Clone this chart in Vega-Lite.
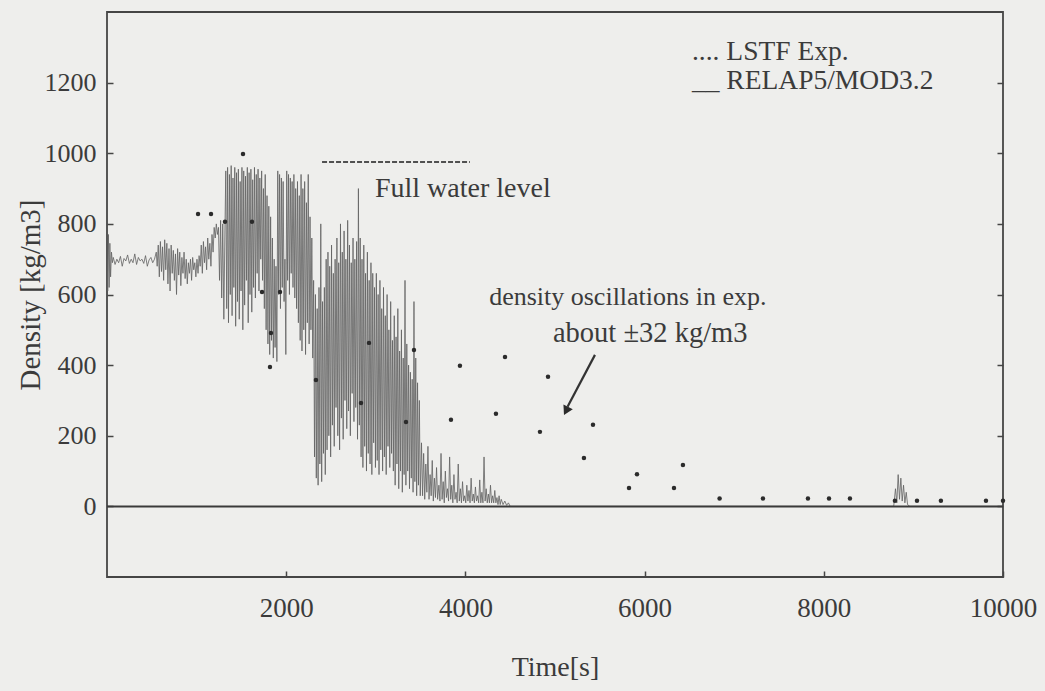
{
  "$schema": "https://vega.github.io/schema/vega-lite/v6.json",
  "width": 896,
  "height": 565,
  "autosize": {"type": "none"},
  "padding": {"left": 107, "top": 12, "right": 42, "bottom": 114},
  "background": "#eeeeec",
  "config": {
    "view": {"stroke": "#454545", "strokeWidth": 1.8},
    "font": "Liberation Serif",
    "text": {"font": "Liberation Serif", "color": "#3b3b3b"}
  },
  "datasets": {
    "relap": [
      {"t":0,"rho":700},{"t":8,"rho":610},{"t":16,"rho":770},{"t":24,"rho":620},{"t":32,"rho":745},{"t":40,"rho":650},{"t":50,"rho":720},{"t":60,"rho":690},
      {"t":70,"rho":705},{"t":90,"rho":685},{"t":110,"rho":700},{"t":130,"rho":690},{"t":150,"rho":708},{"t":170,"rho":680},{"t":190,"rho":702},{"t":210,"rho":695},{"t":230,"rho":712},{"t":250,"rho":688},{"t":270,"rho":700},{"t":290,"rho":690},{"t":310,"rho":715},{"t":330,"rho":685},{"t":350,"rho":705},{"t":370,"rho":695},{"t":390,"rho":700},{"t":410,"rho":688},{"t":430,"rho":710},{"t":450,"rho":680},{"t":470,"rho":698},{"t":490,"rho":705},{"t":510,"rho":690},{"t":530,"rho":700},{"t":550,"rho":720},
      {"t":560,"rho":680},{"t":572,"rho":740},{"t":584,"rho":650},{"t":596,"rho":750},{"t":608,"rho":665},{"t":620,"rho":735},{"t":632,"rho":640},{"t":644,"rho":755},{"t":656,"rho":670},{"t":668,"rho":745},{"t":680,"rho":630},{"t":692,"rho":730},{"t":704,"rho":610},{"t":716,"rho":740},{"t":728,"rho":660},{"t":740,"rho":725},{"t":752,"rho":640},{"t":764,"rho":715},{"t":776,"rho":600},{"t":788,"rho":730},{"t":800,"rho":655},{"t":812,"rho":720},{"t":824,"rho":625},{"t":836,"rho":705},{"t":848,"rho":660},{"t":860,"rho":720},{"t":872,"rho":645},{"t":884,"rho":700},{"t":896,"rho":630},{"t":908,"rho":690},{"t":920,"rho":660},{"t":932,"rho":700},{"t":944,"rho":640},{"t":956,"rho":705},{"t":968,"rho":670},{"t":980,"rho":690},{"t":992,"rho":650},{"t":1004,"rho":700},{"t":1016,"rho":660},{"t":1028,"rho":710},
      {"t":1040,"rho":680},{"t":1052,"rho":740},{"t":1064,"rho":660},{"t":1076,"rho":750},{"t":1088,"rho":690},{"t":1100,"rho":735},{"t":1112,"rho":670},{"t":1124,"rho":760},{"t":1136,"rho":700},{"t":1148,"rho":745},{"t":1160,"rho":680},{"t":1172,"rho":770},{"t":1184,"rho":720},{"t":1196,"rho":790},{"t":1208,"rho":760},{"t":1220,"rho":800},{"t":1232,"rho":770},{"t":1244,"rho":790},{"t":1256,"rho":640},{"t":1268,"rho":810},{"t":1280,"rho":590},{"t":1292,"rho":800},{"t":1304,"rho":530},{"t":1316,"rho":780},
      {"t":1326,"rho":950},{"t":1336,"rho":560},{"t":1346,"rho":960},{"t":1356,"rho":520},{"t":1366,"rho":940},{"t":1376,"rho":600},{"t":1386,"rho":965},{"t":1396,"rho":540},{"t":1406,"rho":930},{"t":1416,"rho":620},{"t":1426,"rho":960},{"t":1436,"rho":510},{"t":1446,"rho":945},{"t":1456,"rho":580},{"t":1466,"rho":955},{"t":1476,"rho":530},{"t":1486,"rho":920},{"t":1496,"rho":610},{"t":1506,"rho":960},{"t":1516,"rho":500},{"t":1526,"rho":950},{"t":1536,"rho":570},{"t":1546,"rho":935},{"t":1556,"rho":640},{"t":1566,"rho":960},{"t":1576,"rho":520},{"t":1586,"rho":945},{"t":1596,"rho":600},{"t":1606,"rho":955},{"t":1616,"rho":550},{"t":1626,"rho":925},{"t":1636,"rho":620},{"t":1646,"rho":960},{"t":1656,"rho":590},{"t":1666,"rho":940},{"t":1676,"rho":660},{"t":1686,"rho":955},{"t":1696,"rho":610},{"t":1706,"rho":930},{"t":1716,"rho":700},{"t":1726,"rho":950},{"t":1736,"rho":640},{"t":1746,"rho":900},{"t":1756,"rho":560},{"t":1766,"rho":940},{"t":1776,"rho":500},{"t":1786,"rho":880},{"t":1796,"rho":460},{"t":1806,"rho":850},{"t":1816,"rho":430},{"t":1826,"rho":820},{"t":1836,"rho":470},{"t":1846,"rho":760},{"t":1856,"rho":420},{"t":1866,"rho":700},{"t":1876,"rho":450},{"t":1886,"rho":680},{"t":1896,"rho":410},
      {"t":1906,"rho":950},{"t":1916,"rho":600},{"t":1926,"rho":940},{"t":1936,"rho":560},{"t":1946,"rho":930},{"t":1956,"rho":620},{"t":1966,"rho":920},{"t":1976,"rho":580},{"t":1986,"rho":700},{"t":1996,"rho":430},{"t":2006,"rho":950},{"t":2016,"rho":640},{"t":2026,"rho":940},{"t":2036,"rho":600},{"t":2046,"rho":930},{"t":2056,"rho":660},{"t":2066,"rho":920},{"t":2076,"rho":620},{"t":2086,"rho":940},{"t":2096,"rho":590},{"t":2106,"rho":900},{"t":2116,"rho":560},{"t":2126,"rho":920},{"t":2136,"rho":520},{"t":2146,"rho":880},{"t":2156,"rho":470},{"t":2166,"rho":940},{"t":2176,"rho":440},{"t":2186,"rho":900},{"t":2196,"rho":500},{"t":2206,"rho":920},{"t":2216,"rho":430},{"t":2226,"rho":860},{"t":2236,"rho":520},{"t":2246,"rho":940},{"t":2256,"rho":460},{"t":2266,"rho":820},{"t":2276,"rho":500},{"t":2286,"rho":760},{"t":2296,"rho":420},
      {"t":2306,"rho":640},{"t":2316,"rho":140},{"t":2326,"rho":600},{"t":2336,"rho":80},{"t":2346,"rho":560},{"t":2356,"rho":60},{"t":2366,"rho":620},{"t":2376,"rho":120},{"t":2386,"rho":800},{"t":2396,"rho":70},{"t":2406,"rho":580},{"t":2416,"rho":150},{"t":2426,"rho":620},{"t":2436,"rho":90},{"t":2446,"rho":700},
      {"t":2456,"rho":160},{"t":2466,"rho":720},{"t":2476,"rho":200},{"t":2486,"rho":680},{"t":2496,"rho":140},{"t":2506,"rho":740},{"t":2516,"rho":230},{"t":2526,"rho":660},{"t":2536,"rho":170},{"t":2546,"rho":700},{"t":2556,"rho":280},{"t":2566,"rho":760},{"t":2576,"rho":200},{"t":2586,"rho":690},{"t":2596,"rho":160},{"t":2606,"rho":800},{"t":2616,"rho":250},{"t":2626,"rho":720},{"t":2636,"rho":190},{"t":2646,"rho":780},{"t":2656,"rho":300},{"t":2666,"rho":700},{"t":2676,"rho":220},{"t":2686,"rho":810},{"t":2696,"rho":270},{"t":2706,"rho":740},{"t":2716,"rho":200},{"t":2726,"rho":690},{"t":2736,"rho":320},{"t":2746,"rho":760},{"t":2756,"rho":240},{"t":2766,"rho":700},{"t":2776,"rho":280},{"t":2786,"rho":750},{"t":2796,"rho":190},
      {"t":2806,"rho":900},{"t":2816,"rho":230},{"t":2826,"rho":760},{"t":2836,"rho":140},{"t":2846,"rho":700},{"t":2856,"rho":110},{"t":2866,"rho":740},{"t":2876,"rho":170},{"t":2886,"rho":660},{"t":2896,"rho":100},{"t":2906,"rho":720},{"t":2916,"rho":150},{"t":2926,"rho":640},{"t":2936,"rho":120},{"t":2946,"rho":690},{"t":2956,"rho":90},{"t":2966,"rho":660},{"t":2976,"rho":180},{"t":2986,"rho":620},{"t":2996,"rho":110},
      {"t":3006,"rho":660},{"t":3016,"rho":130},{"t":3026,"rho":600},{"t":3036,"rho":90},{"t":3046,"rho":640},{"t":3056,"rho":160},{"t":3066,"rho":560},{"t":3076,"rho":100},{"t":3086,"rho":620},{"t":3096,"rho":140},{"t":3106,"rho":540},{"t":3116,"rho":90},{"t":3126,"rho":600},{"t":3136,"rho":170},{"t":3146,"rho":500},{"t":3156,"rho":110},{"t":3166,"rho":580},{"t":3176,"rho":150},{"t":3186,"rho":470},{"t":3196,"rho":100},
      {"t":3206,"rho":540},{"t":3216,"rho":60},{"t":3226,"rho":480},{"t":3236,"rho":120},{"t":3246,"rho":560},{"t":3256,"rho":50},{"t":3266,"rho":440},{"t":3276,"rho":100},{"t":3286,"rho":500},{"t":3296,"rho":40},{"t":3306,"rho":420},{"t":3316,"rho":90},{"t":3326,"rho":640},{"t":3336,"rho":60},{"t":3346,"rho":460},{"t":3356,"rho":100},{"t":3366,"rho":400},{"t":3376,"rho":50},{"t":3386,"rho":380},{"t":3396,"rho":80},{"t":3406,"rho":360},{"t":3416,"rho":40},{"t":3426,"rho":580},{"t":3436,"rho":70},{"t":3446,"rho":420},{"t":3456,"rho":30},{"t":3466,"rho":350},{"t":3476,"rho":60},{"t":3486,"rho":300},{"t":3496,"rho":30},
      {"t":3510,"rho":180},{"t":3522,"rho":30},{"t":3534,"rho":150},{"t":3546,"rho":20},{"t":3558,"rho":120},{"t":3570,"rho":40},{"t":3582,"rho":170},{"t":3594,"rho":20},{"t":3606,"rho":90},{"t":3618,"rho":30},{"t":3630,"rho":130},{"t":3642,"rho":15},{"t":3654,"rho":80},{"t":3666,"rho":25},{"t":3678,"rho":110},{"t":3690,"rho":20},
      {"t":3704,"rho":60},{"t":3716,"rho":15},{"t":3728,"rho":150},{"t":3740,"rho":20},{"t":3752,"rho":70},{"t":3764,"rho":10},{"t":3776,"rho":100},{"t":3788,"rho":25},{"t":3800,"rho":50},{"t":3812,"rho":15},{"t":3824,"rho":140},{"t":3836,"rho":20},{"t":3848,"rho":60},{"t":3860,"rho":10},{"t":3872,"rho":90},{"t":3884,"rho":20},{"t":3896,"rho":40},{"t":3908,"rho":10},{"t":3920,"rho":120},{"t":3932,"rho":15},{"t":3944,"rho":50},{"t":3956,"rho":10},{"t":3968,"rho":70},{"t":3980,"rho":15},{"t":3992,"rho":30},
      {"t":4004,"rho":10},{"t":4016,"rho":60},{"t":4028,"rho":15},{"t":4040,"rho":45},{"t":4052,"rho":10},{"t":4064,"rho":80},{"t":4076,"rho":15},{"t":4088,"rho":35},{"t":4100,"rho":10},{"t":4112,"rho":55},{"t":4124,"rho":15},{"t":4136,"rho":30},{"t":4148,"rho":10},{"t":4160,"rho":75},{"t":4172,"rho":10},{"t":4184,"rho":40},{"t":4196,"rho":10},{"t":4208,"rho":140},{"t":4220,"rho":15},{"t":4232,"rho":50},{"t":4244,"rho":10},{"t":4256,"rho":35},{"t":4268,"rho":10},{"t":4280,"rho":60},{"t":4292,"rho":10},{"t":4304,"rho":30},{"t":4316,"rho":10},{"t":4328,"rho":45},{"t":4340,"rho":10},{"t":4352,"rho":25},{"t":4364,"rho":5},{"t":4376,"rho":30},{"t":4388,"rho":5},{"t":4400,"rho":20},{"t":4420,"rho":5},{"t":4440,"rho":15},{"t":4460,"rho":3},{"t":4480,"rho":10},{"t":4500,"rho":0},
      {"t":5000,"rho":0},{"t":6000,"rho":0},{"t":7000,"rho":0},{"t":8000,"rho":0},{"t":8780,"rho":0},{"t":8800,"rho":50},{"t":8815,"rho":10},{"t":8830,"rho":90},{"t":8845,"rho":20},{"t":8860,"rho":80},{"t":8875,"rho":15},{"t":8890,"rho":60},{"t":8905,"rho":10},{"t":8920,"rho":40},{"t":8935,"rho":5},{"t":8960,"rho":0},{"t":9500,"rho":0},{"t":10000,"rho":0}
    ],
    "lstf": [
      {"t":1016,"rho":828},{"t":1161,"rho":828},{"t":1317,"rho":806},{"t":1518,"rho":998},{"t":1618,"rho":806},
      {"t":1730,"rho":607},{"t":1819,"rho":395},{"t":1830,"rho":491},{"t":1931,"rho":607},{"t":2332,"rho":358},
      {"t":2835,"rho":293},{"t":2924,"rho":463},{"t":3337,"rho":239},{"t":3426,"rho":443},{"t":3839,"rho":245},
      {"t":3939,"rho":398},{"t":4341,"rho":262},{"t":4442,"rho":423},{"t":4832,"rho":211},{"t":4922,"rho":367},
      {"t":5323,"rho":137},{"t":5424,"rho":231},{"t":5826,"rho":52},{"t":5915,"rho":91},{"t":6328,"rho":52},
      {"t":6428,"rho":117},{"t":6837,"rho":22},{"t":7321,"rho":22},{"t":7823,"rho":22},{"t":8058,"rho":22},
      {"t":8292,"rho":22},{"t":8794,"rho":16},{"t":9040,"rho":16},{"t":9307,"rho":16},{"t":9810,"rho":16},{"t":10000,"rho":16}
    ],
    "one": [{}]
  },
  "layer": [
    {
      "data": {"name": "relap"},
      "mark": {"type": "line", "stroke": "#616161", "strokeWidth": 0.8, "clip": true},
      "encoding": {
        "x": {
          "field": "t", "type": "quantitative",
          "scale": {"domain": [0, 10000], "nice": false, "zero": false},
          "axis": {
            "values": [2000, 4000, 6000, 8000, 10000], "format": "d", "labelFlush": false,
            "title": "Time[s]", "domain": false, "grid": false,
            "tickSize": -6, "tickColor": "#454545", "tickWidth": 1.5,
            "labelFont": "Liberation Serif", "labelFontSize": 27, "labelColor": "#3b3b3b", "labelPadding": 24,
            "titleFont": "Liberation Serif", "titleFontSize": 28, "titleFontWeight": "normal", "titleColor": "#3b3b3b", "titlePadding": 32
          }
        },
        "y": {
          "field": "rho", "type": "quantitative",
          "scale": {"domain": [-200, 1400], "nice": false, "zero": false},
          "axis": {
            "values": [0, 200, 400, 600, 800, 1000, 1200], "format": "d", "labelFlush": false,
            "title": "Density [kg/m3]", "domain": false, "grid": false,
            "tickSize": -6, "tickColor": "#454545", "tickWidth": 1.5,
            "labelFont": "Liberation Serif", "labelFontSize": 26, "labelColor": "#3b3b3b", "labelPadding": 17,
            "titleFont": "Liberation Serif", "titleFontSize": 29, "titleFontWeight": "normal", "titleColor": "#3b3b3b", "titlePadding": -1
          }
        }
      }
    },
    {
      "data": {"name": "one"},
      "mark": {"type": "rule", "stroke": "#3a3a3a", "strokeWidth": 2},
      "encoding": {
        "y": {
          "datum": 0, "type": "quantitative",
          "axis": {
            "orient": "right", "labels": false, "title": null, "domain": false, "grid": false,
            "values": [0, 200, 400, 600, 800, 1000, 1200],
            "tickSize": -6, "tickColor": "#454545", "tickWidth": 1.5
          }
        }
      }
    },
    {
      "data": {"name": "lstf"},
      "mark": {"type": "circle", "size": 20, "color": "#2b2b2b", "opacity": 1},
      "encoding": {
        "x": {"field": "t", "type": "quantitative", "axis": null},
        "y": {"field": "rho", "type": "quantitative", "axis": null}
      }
    },
    {
      "data": {"name": "one"},
      "mark": {"type": "rule", "stroke": "#505050", "strokeWidth": 2, "strokeDash": [5, 2]},
      "encoding": {
        "x": {"datum": 2400, "type": "quantitative", "axis": null},
        "x2": {"datum": 4050},
        "y": {"datum": 975, "type": "quantitative", "axis": null}
      }
    },
    {
      "data": {"name": "one"},
      "mark": {"type": "text", "fontSize": 28, "align": "left", "baseline": "alphabetic"},
      "encoding": {
        "x": {"datum": 2991, "type": "quantitative", "axis": null},
        "y": {"datum": 876, "type": "quantitative", "axis": null},
        "text": {"value": "Full water level"}
      }
    },
    {
      "data": {"name": "one"},
      "mark": {"type": "text", "fontSize": 26, "align": "left", "baseline": "alphabetic"},
      "encoding": {
        "x": {"datum": 4265, "type": "quantitative", "axis": null},
        "y": {"datum": 570, "type": "quantitative", "axis": null},
        "text": {"value": "density oscillations in exp."}
      }
    },
    {
      "data": {"name": "one"},
      "mark": {"type": "text", "fontSize": 28.5, "align": "left", "baseline": "alphabetic"},
      "encoding": {
        "x": {"datum": 4977, "type": "quantitative", "axis": null},
        "y": {"datum": 466, "type": "quantitative", "axis": null},
        "text": {"value": "about ±32 kg/m3"}
      }
    },
    {
      "data": {"name": "one"},
      "mark": {"type": "rule", "stroke": "#333333", "strokeWidth": 2.2},
      "encoding": {
        "x": {"datum": 5446, "type": "quantitative", "axis": null},
        "y": {"datum": 429, "type": "quantitative", "axis": null},
        "x2": {"datum": 5140},
        "y2": {"datum": 282}
      }
    },
    {
      "data": {"name": "one"},
      "mark": {"type": "point", "shape": "triangle", "filled": true, "size": 110, "color": "#2b2b2b", "opacity": 1, "angle": 207},
      "encoding": {
        "x": {"datum": 5131, "type": "quantitative", "axis": null},
        "y": {"datum": 274, "type": "quantitative", "axis": null}
      }
    },
    {
      "data": {"name": "one"},
      "mark": {"type": "text", "fontSize": 27.5, "align": "left", "baseline": "alphabetic"},
      "encoding": {
        "x": {"datum": 6529, "type": "quantitative", "axis": null},
        "y": {"datum": 1263, "type": "quantitative", "axis": null},
        "text": {"value": ".... LSTF Exp."}
      }
    },
    {
      "data": {"name": "one"},
      "mark": {"type": "text", "fontSize": 27.5, "align": "left", "baseline": "alphabetic"},
      "encoding": {
        "x": {"datum": 6529, "type": "quantitative", "axis": null},
        "y": {"datum": 1182, "type": "quantitative", "axis": null},
        "text": {"value": "__ RELAP5/MOD3.2"}
      }
    }
  ],
  "resolve": {"axis": {"x": "independent", "y": "independent"}}
}
